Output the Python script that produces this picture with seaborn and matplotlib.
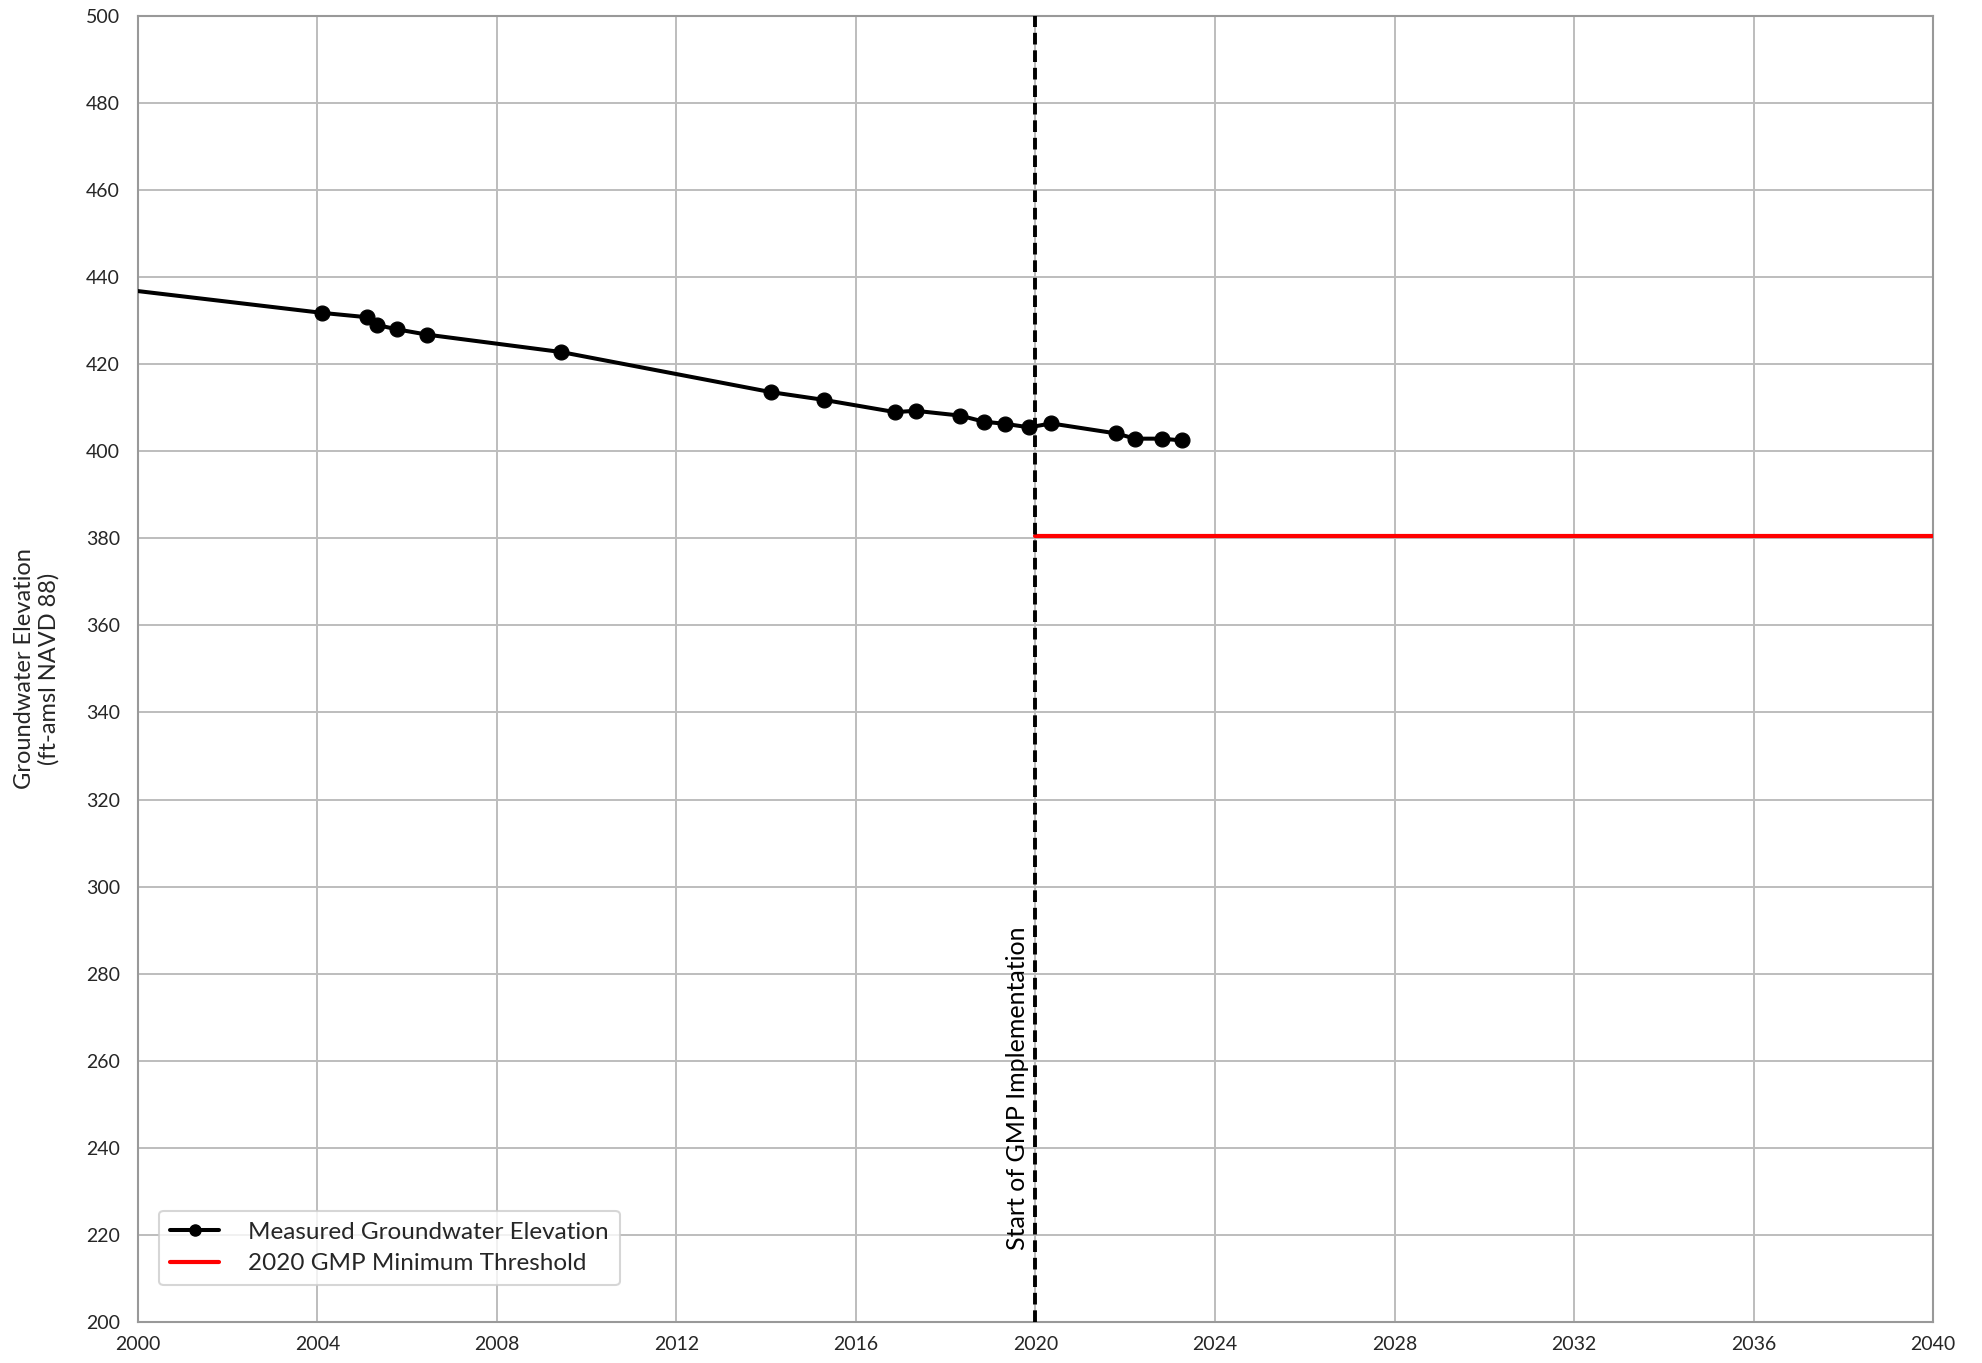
import numpy as np
import pandas as pd
import matplotlib
matplotlib.use("Agg")
import matplotlib.pyplot as plt
import seaborn as sns
from matplotlib.lines import Line2D

# measured groundwater elevations (decimal year, ft-amsl)
line_start_year = 2000.0
line_start_elev = 436.8
years = [2004.10, 2005.10, 2005.33, 2005.78, 2006.44, 2009.43, 2014.10, 2015.29,
         2016.87, 2017.33, 2018.32, 2018.85, 2019.33, 2019.86, 2020.35, 2021.80,
         2022.22, 2022.81, 2023.26]
elev = [431.8, 430.8, 429.0, 428.0, 426.8, 422.8, 413.6, 411.8,
        409.0, 409.3, 408.2, 406.8, 406.3, 405.5, 406.4, 404.1,
        402.9, 402.9, 402.5]

threshold_years = [2020, 2040]
threshold_value = [380.6, 380.6]
gmp_start = 2020

x_ticks = list(range(2000, 2041, 4))
y_ticks = list(range(200, 501, 20))

sns.set_style("white")
plt.rcParams['font.family'] = ['Lato', 'DejaVu Sans']

df = pd.DataFrame({"year": years, "elev": elev})
df_line = pd.DataFrame({"year": [line_start_year] + years,
                        "elev": [line_start_elev] + elev})
df_thr = pd.DataFrame({"year": threshold_years, "elev": threshold_value})

fig, ax = plt.subplots(figsize=(19.82, 13.63), dpi=100)
fig.subplots_adjust(left=0.0696, right=0.9753, top=0.9883, bottom=0.0301)

ax.grid(True, color="#bdbdbd", linewidth=1.4)
ax.set_axisbelow(True)

sns.lineplot(data=df_line, x="year", y="elev", color="black", linewidth=2.9,
             ax=ax, sort=False, zorder=3)
sns.scatterplot(data=df, x="year", y="elev", color="black", s=115,
                edgecolor="black", ax=ax, zorder=4)
sns.lineplot(data=df_thr, x="year", y="elev", color="#ff0000", linewidth=3.0,
             ax=ax, zorder=3)

ax.axvline(gmp_start, color="black", linewidth=2.8, dashes=(3, 1.5), zorder=5)
ax.text(gmp_start - 0.15, 216.5, "Start of GMP Implementation", rotation=90,
        ha="right", va="bottom", fontsize=18, color="black")

ax.set_xlim(2000, 2040)
ax.set_ylim(200, 500)
ax.set_xticks(x_ticks)
ax.set_yticks(y_ticks)
ax.tick_params(axis="both", length=0, labelsize=14)
ax.tick_params(axis="x", pad=10)
ax.tick_params(axis="y", pad=13)

ax.set_xlabel("")
ax.set_ylabel("Groundwater Elevation\n(ft-amsl NAVD 88)", fontsize=17)
ax.yaxis.set_label_coords(-0.0435, 0.5)

for sp in ax.spines.values():
    sp.set_color("#999999")
    sp.set_linewidth(1.5)

handles = [
    Line2D([], [], color="black", linewidth=2.9, marker="o", markersize=8),
    Line2D([], [], color="#ff0000", linewidth=3.0),
]
labels = ["Measured Groundwater Elevation", "2020 GMP Minimum Threshold"]
leg = ax.legend(handles, labels, loc="lower left", bbox_to_anchor=(0.012, 0.028),
                borderaxespad=0, fontsize=17.5, frameon=True, fancybox=True,
                handlelength=2.0, handletextpad=1.2, borderpad=0.45,
                labelspacing=0.45)
leg.get_frame().set_edgecolor("#cccccc")
leg.get_frame().set_linewidth(1.5)

fig.savefig("out.png", dpi=100)
